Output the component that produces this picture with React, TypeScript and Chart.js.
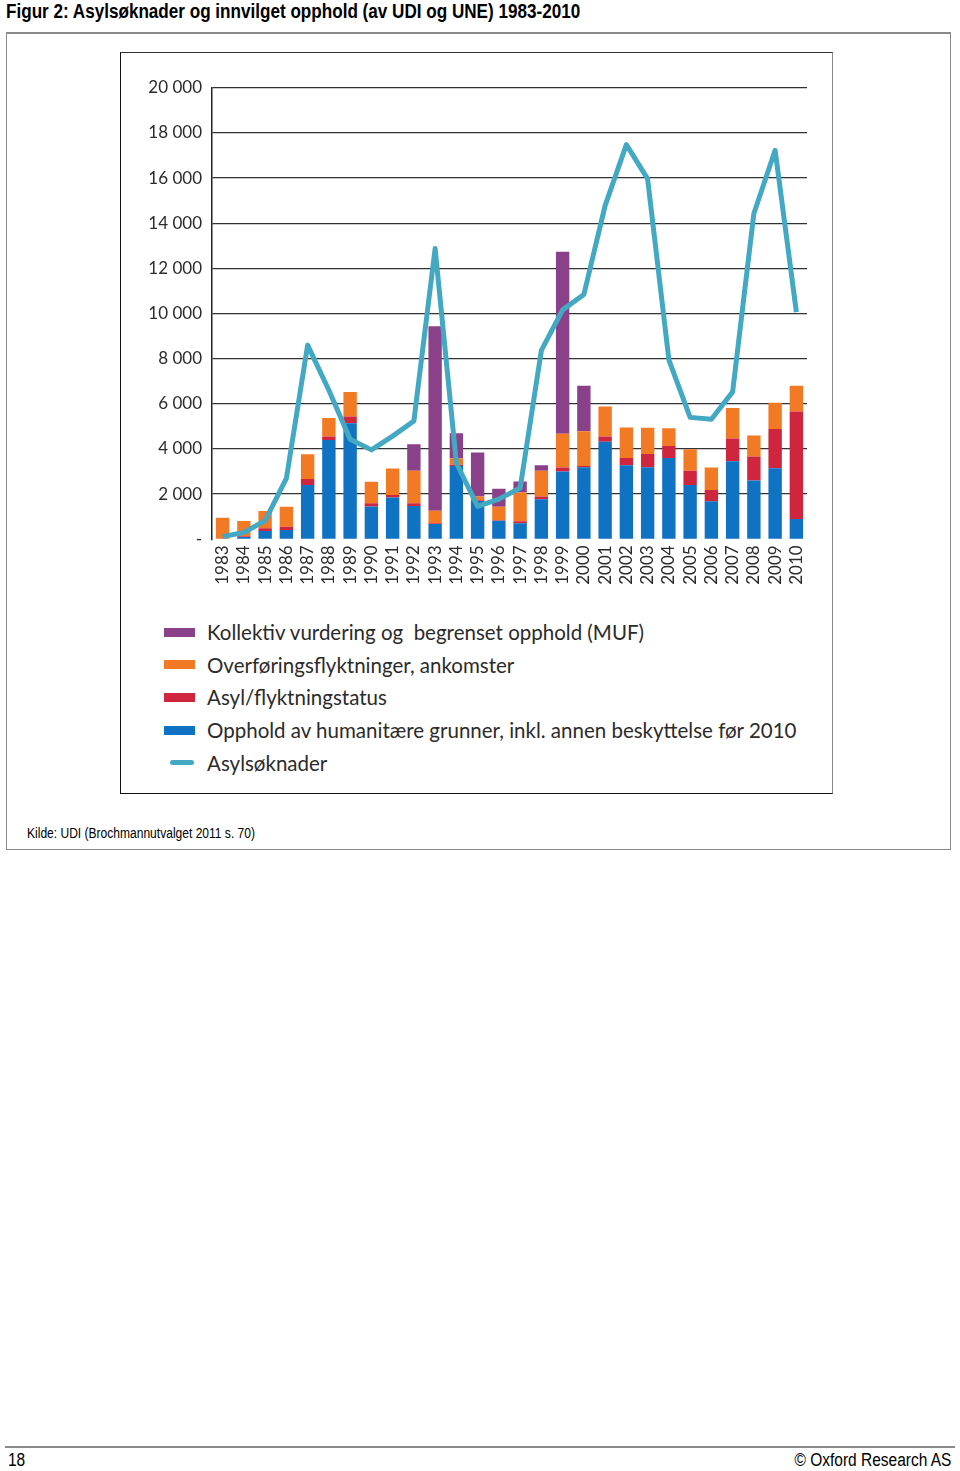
import React, { useEffect, useRef } from "react";
import { Chart, registerables } from "chart.js";

Chart.register(...registerables);

const years = ["1983","1984","1985","1986","1987","1988","1989","1990","1991","1992","1993","1994","1995","1996","1997","1998","1999","2000","2001","2002","2003","2004","2005","2006","2007","2008","2009","2010"];
const humanitarian = [0,100,370,410,2400,4400,5140,1450,1850,1480,680,3250,1700,820,710,1770,3000,3190,4315,3280,3190,3600,2400,1685,3460,2600,3150,900];
const asylStatus = [0,30,120,150,270,150,300,150,110,120,30,50,30,20,90,120,180,60,235,325,590,530,640,500,1000,1065,1740,4760];
const transfer = [950,680,765,880,1100,820,1080,950,1170,1440,550,290,160,600,1270,1150,1500,1540,1330,1345,1155,790,950,990,1360,930,1155,1140];
const collective = [0,0,0,0,0,0,0,0,0,1170,8170,1110,1950,800,490,240,8060,2010,0,0,0,0,0,0,0,0,0,0];
const applications = [120,300,830,2700,8600,6600,4430,3960,4570,5240,12880,3380,1460,1780,2270,8370,10160,10840,14780,17480,15960,7950,5400,5320,6530,14430,17230,10060];

const labelMUF = "Kollektiv vurdering og  begrenset opphold (MUF)";
const labelTransfer = "Overføringsflyktninger, ankomster";
const labelAsyl = "Asyl/flyktningstatus";
const labelHum = "Opphold av humanitære grunner, inkl. annen beskyttelse før 2010";
const labelApps = "Asylsøknader";

const cPurple = "#8b4189";
const cOrange = "#f37a25";
const cRed = "#d0253e";
const cBlue = "#0f72c3";
const cLine = "#43a9c3";

const legendItems = [
  { label: labelMUF, color: cPurple, line: false },
  { label: labelTransfer, color: cOrange, line: false },
  { label: labelAsyl, color: cRed, line: false },
  { label: labelHum, color: cBlue, line: false },
  { label: labelApps, color: cLine, line: true },
];

const narrow = '"Liberation Sans", Arial, Helvetica, sans-serif';
const chartFont = 'Lato, "Open Sans", sans-serif';

export default function App() {
  const ref = useRef<HTMLCanvasElement | null>(null);

  useEffect(() => {
    document.body.style.margin = "0";
    const canvas = ref.current;
    if (!canvas) return;
    const H = 545;
    const axisLeft = 91;
    const plotBottom = 486.3;
    const chart = new Chart(canvas, {
      type: "bar",
      data: {
        labels: years,
        datasets: [
          { type: "line", label: labelApps, data: applications, borderColor: cLine, backgroundColor: cLine, borderWidth: 5, pointRadius: 0, tension: 0, order: 0, stack: "line", borderCapStyle: "butt", borderJoinStyle: "round" } as any,
          { label: labelHum, data: humanitarian, backgroundColor: cBlue, order: 1, stack: "s" },
          { label: labelAsyl, data: asylStatus, backgroundColor: cRed, order: 1, stack: "s" },
          { label: labelTransfer, data: transfer, backgroundColor: cOrange, order: 1, stack: "s" },
          { label: labelMUF, data: collective, backgroundColor: cPurple, order: 1, stack: "s" },
        ],
      },
      options: {
        responsive: false,
        animation: false,
        layout: { padding: { top: 34.7, right: 25, bottom: 0, left: 0 } },
        datasets: { bar: { barPercentage: 0.63, categoryPercentage: 1.0 } },
        plugins: { legend: { display: false }, tooltip: { enabled: false } },
        scales: {
          x: {
            stacked: true,
            grid: { display: false, drawTicks: false },
            border: { display: false },
            ticks: { autoSkip: false, maxRotation: 90, minRotation: 90, padding: 6, color: "#2b2b2b", font: { family: chartFont, size: 17 } },
            afterFit: (scale: any) => { scale.height = H - plotBottom; },
          },
          y: {
            stacked: true,
            min: 0,
            max: 20000,
            grid: {
              drawTicks: false,
              color: (ctx: any) => (ctx.tick && ctx.tick.value === 0 ? "rgba(0,0,0,0)" : "#333"),
              lineWidth: 1.3,
            },
            border: { display: true, color: "#222", width: 1.5 },
            ticks: {
              stepSize: 2000,
              padding: 10,
              color: "#2b2b2b",
              font: { family: chartFont, size: 17 },
              callback: (v: any) => (v === 0 ? "-" : `${Math.round(v / 1000)} 000`),
            },
            afterFit: (scale: any) => { scale.width = axisLeft; },
          },
        },
      },
    });
    return () => chart.destroy();
  }, []);

  return (
    <div style={{ position: "relative", width: 960, height: 1471, background: "#fff", overflow: "hidden" }}>
      <div style={{ position: "absolute", left: 6, top: 0, fontFamily: narrow, fontWeight: "bold", fontSize: 20, lineHeight: "23px", color: "#000", whiteSpace: "nowrap", transform: "scaleX(0.855)", transformOrigin: "left top" }}>
        Figur 2: Asylsøknader og innvilget opphold (av UDI og UNE) 1983-2010
      </div>
      <div style={{ position: "absolute", left: 6, top: 32, width: 943, height: 815, borderTop: "2px solid #8a8a8a", borderLeft: "1px solid #8a8a8a", borderRight: "1px solid #8a8a8a", borderBottom: "1px solid #8a8a8a" }} />
      <div style={{ position: "absolute", left: 120, top: 52, width: 711, height: 740, borderTop: "1px solid #333", borderLeft: "1.5px solid #111", borderRight: "1px solid #888", borderBottom: "1.5px solid #111" }} />
      <canvas ref={ref} width={711} height={545} style={{ position: "absolute", left: 121, top: 53, width: 711, height: 545 }} />
      <div style={{ position: "absolute", left: 164, top: 616 }}>
        {legendItems.map((it, i) => (
          <div key={i} style={{ display: "flex", alignItems: "center", height: 32.6, whiteSpace: "pre" }}>
            {it.line ? (
              <div style={{ width: 24, height: 5, borderRadius: 3, background: it.color, marginLeft: 6, marginRight: 13 }} />
            ) : (
              <div style={{ width: 31, height: 9, background: it.color, marginRight: 12 }} />
            )}
            <span style={{ fontFamily: chartFont, fontSize: 20.5, color: "#2b2b2b" }}>{it.label}</span>
          </div>
        ))}
      </div>
      <div style={{ position: "absolute", left: 27, top: 825, fontFamily: narrow, fontSize: 14, color: "#000", whiteSpace: "nowrap", transform: "scaleX(0.86)", transformOrigin: "left top" }}>
        Kilde: UDI (Brochmannutvalget 2011 s. 70)
      </div>
      <div style={{ position: "absolute", left: 5, top: 1446, width: 950, height: 2, background: "#8a8a8a" }} />
      <div style={{ position: "absolute", left: 8, top: 1450, fontFamily: narrow, fontSize: 18, color: "#000", transform: "scaleX(0.86)", transformOrigin: "left top" }}>18</div>
      <div style={{ position: "absolute", right: 9, top: 1450, fontFamily: narrow, fontSize: 18, color: "#000", whiteSpace: "nowrap", transform: "scaleX(0.86)", transformOrigin: "right top" }}>© Oxford Research AS</div>
    </div>
  );
}
